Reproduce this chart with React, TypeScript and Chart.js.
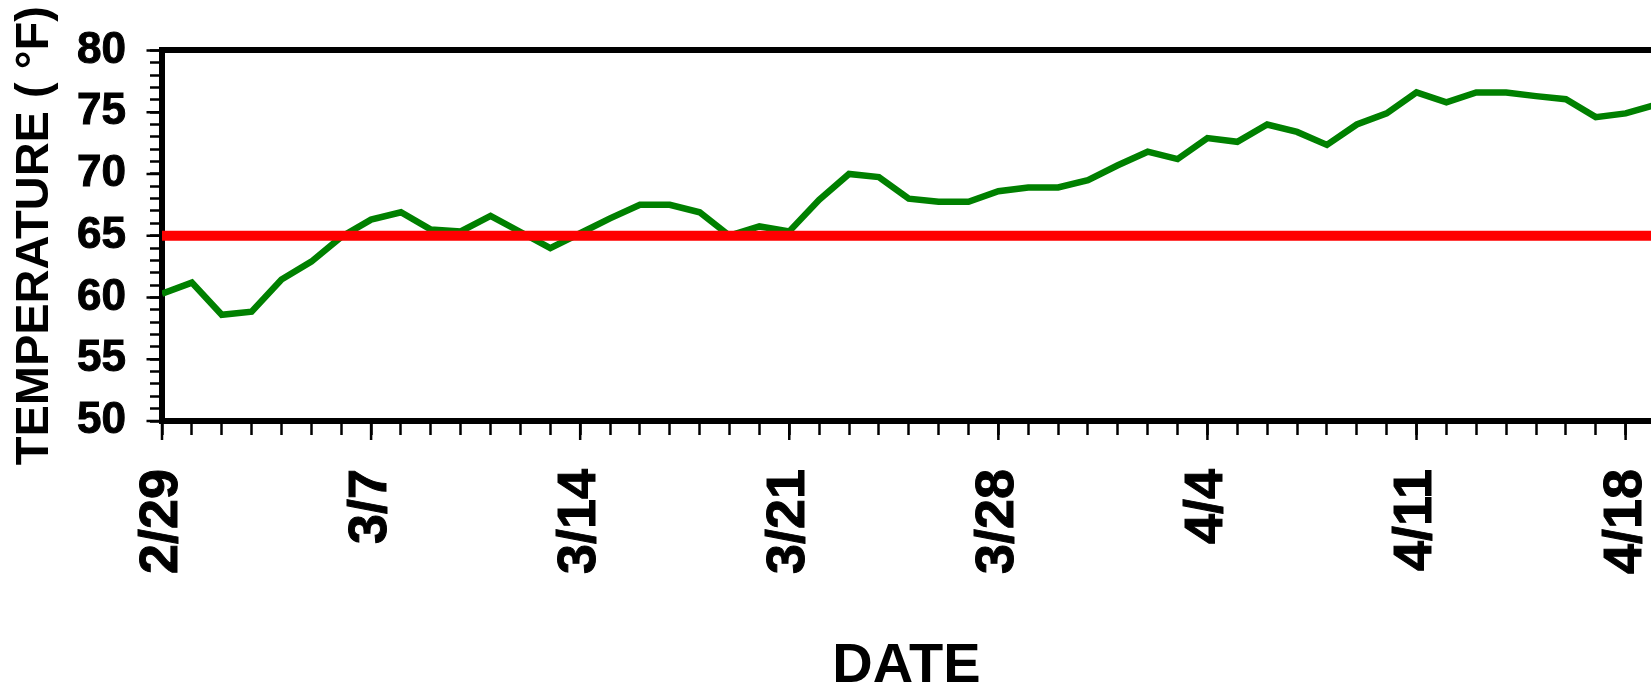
import React, { useEffect, useRef } from 'react';
import { Chart, registerables } from 'chart.js';

Chart.register(...registerables);

// Day index 0 = 2/29
const dates: string[] = [
  '2/29',
  '3/1', '3/2', '3/3', '3/4', '3/5', '3/6', '3/7', '3/8', '3/9', '3/10',
  '3/11', '3/12', '3/13', '3/14', '3/15', '3/16', '3/17', '3/18', '3/19', '3/20',
  '3/21', '3/22', '3/23', '3/24', '3/25', '3/26', '3/27', '3/28', '3/29', '3/30', '3/31',
  '4/1', '4/2', '4/3', '4/4', '4/5', '4/6', '4/7', '4/8', '4/9', '4/10',
  '4/11', '4/12', '4/13', '4/14', '4/15', '4/16', '4/17', '4/18', '4/19',
];

const temps: number[] = [
  60.3, 61.2, 58.6, 58.85, 61.45, 62.9, 64.9, 66.3, 66.9, 65.5,
  65.35, 66.6, 65.3, 64.0, 65.2, 66.4, 67.5, 67.5, 66.9, 65.0,
  65.75, 65.35, 67.9, 70.0, 69.75, 68.0, 67.75, 67.75, 68.6, 68.9,
  68.9, 69.5, 70.7, 71.8, 71.2, 72.9, 72.6, 74.0, 73.4, 72.35,
  74.0, 74.9, 76.6, 75.8, 76.6, 76.6, 76.3, 76.05, 74.6, 74.9,
  75.6,
];

const thresholdX: number[] = [0, 50];
const thresholdY: number[] = [65, 65];

const yMin = 50;
const yMax = 80;
const yLabelStep = 5;
const xLabelStep = 7;
const xMax = 49.85;

const FONT = "'Liberation Sans', Arial, Helvetica, sans-serif";

const majorTicks = {
  id: 'majorTicks',
  afterDraw(chart: any) {
    const { ctx, chartArea, scales } = chart;
    ctx.save();
    ctx.strokeStyle = '#000';
    ctx.lineWidth = 2.5;
    ctx.beginPath();
    for (let d = 0; d < dates.length; d += xLabelStep) {
      const px = scales.x.getPixelForValue(d);
      if (px > chartArea.right + 2) continue;
      ctx.moveTo(px, chartArea.bottom);
      ctx.lineTo(px, chartArea.bottom + 19);
    }
    for (let v = yMin; v <= yMax; v += yLabelStep) {
      const py = scales.y.getPixelForValue(v);
      ctx.moveTo(chartArea.left - 15.5, py);
      ctx.lineTo(chartArea.left, py);
    }
    ctx.stroke();
    ctx.restore();
  },
};

export default function App() {
  const ref = useRef<HTMLCanvasElement | null>(null);

  useEffect(() => {
    if (!ref.current) return;
    const chart = new Chart(ref.current, {
      type: 'line',
      data: {
        datasets: [
          {
            label: 'Threshold',
            data: thresholdX.map((x, i) => ({ x, y: thresholdY[i] })),
            borderColor: '#ff0000',
            borderWidth: 10,
            borderCapStyle: 'round',
            pointRadius: 0,
            order: 0,
          },
          {
            label: 'Temperature',
            data: temps.map((t, i) => ({ x: i, y: t })),
            borderColor: '#008000',
            borderWidth: 6.5,
            pointRadius: 0,
            tension: 0,
            order: 1,
          },
        ],
      },
      options: {
        animation: false,
        responsive: false,
        devicePixelRatio: 1,
        layout: { padding: { top: 48, left: 0, right: 0, bottom: 0 } },
        plugins: {
          legend: { display: false },
          tooltip: { enabled: false },
        },
        scales: {
          x: {
            type: 'linear',
            position: 'bottom',
            min: 0,
            max: xMax,
            ticks: {
              stepSize: 1,
              autoSkip: false,
              includeBounds: false,
              minRotation: 90,
              maxRotation: 90,
              padding: 34,
              color: '#000',
              textStrokeColor: '#000',
              textStrokeWidth: 1,
              font: { family: FONT, size: 54, weight: 'bold' },
              callback: (v: any) => {
                const n = Math.round(Number(v));
                return n % xLabelStep === 0 && dates[n] ? dates[n] : '';
              },
            },
            grid: {
              drawOnChartArea: false,
              drawTicks: true,
              tickLength: 14,
              tickWidth: 2.5,
              tickColor: '#000',
              color: '#000',
            },
            border: { display: true, color: '#000', width: 6 },
            title: {
              display: true,
              text: 'DATE',
              color: '#000',
              font: { family: FONT, size: 56, weight: 'bold', lineHeight: 1 },
              padding: { top: 0, bottom: -2 },
            },
            afterFit: (s: any) => {
              s.height = 272;
              s.paddingLeft = 0;
              s.paddingRight = 0;
            },
          },
          xTop: {
            type: 'linear',
            position: 'top',
            min: 0,
            max: xMax,
            ticks: { display: false },
            grid: { display: false, drawTicks: false },
            border: { display: true, color: '#000', width: 6 },
            afterFit: (s: any) => {
              s.height = 0;
              s.paddingLeft = 0;
              s.paddingRight = 0;
            },
          },
          y: {
            type: 'linear',
            position: 'left',
            min: yMin,
            max: yMax,
            ticks: {
              stepSize: 1,
              autoSkip: false,
              padding: 24,
              color: '#000',
              textStrokeColor: '#000',
              textStrokeWidth: 1,
              font: { family: FONT, size: 44, weight: 'bold' },
              callback: (v: any) => {
                const n = Math.round(Number(v));
                return n % yLabelStep === 0 ? String(n) : '';
              },
            },
            grid: {
              drawOnChartArea: false,
              drawTicks: true,
              tickLength: 12,
              tickWidth: 2.5,
              tickColor: '#000',
              color: '#000',
            },
            border: { display: true, color: '#000', width: 6 },
            title: {
              display: true,
              text: 'TEMPERATURE ( °F)',
              color: '#000',
              font: { family: FONT, size: 47, weight: 'bold', lineHeight: 1.2 },
              padding: { top: 7, bottom: 0 },
            },
            afterFit: (s: any) => {
              s.width = 162;
            },
          },
        },
      } as any,
      plugins: [majorTicks],
    });
    return () => chart.destroy();
  }, []);

  return (
    <div style={{ position: 'fixed', left: 0, top: 0, width: 1651, height: 693, background: '#fff' }}>
      <canvas ref={ref} width={1651} height={693} style={{ display: 'block' }} />
    </div>
  );
}
